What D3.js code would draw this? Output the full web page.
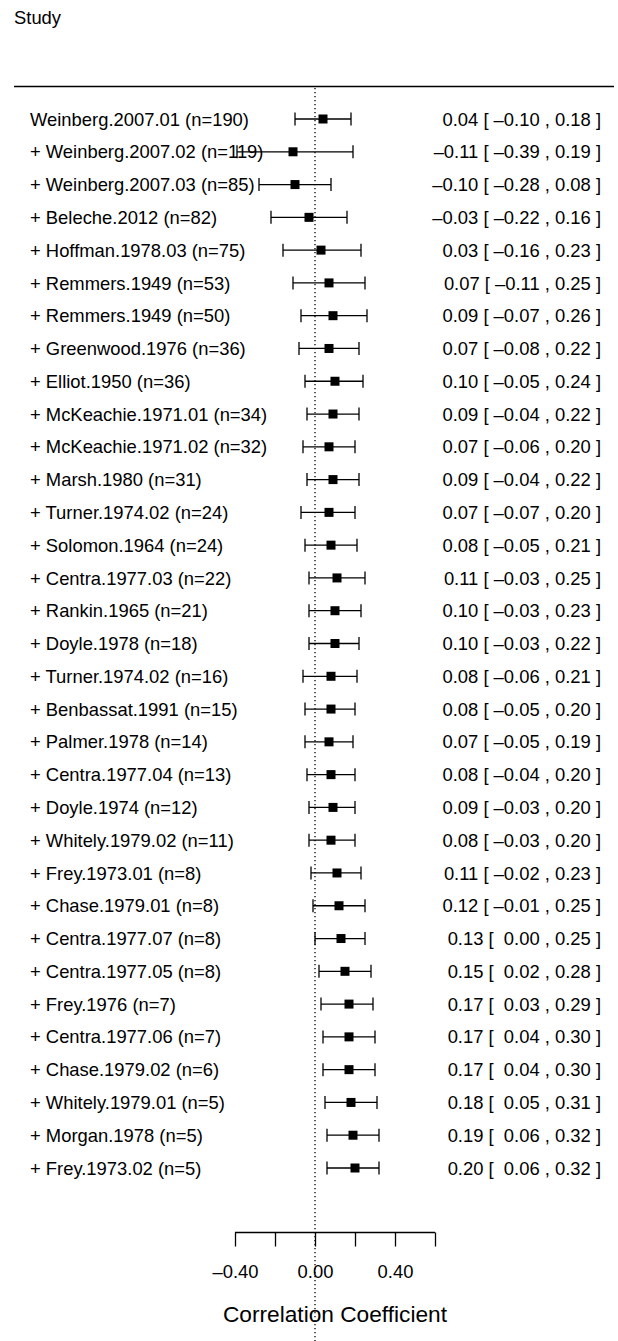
<!DOCTYPE html>
<html>
<head>
<meta charset="utf-8">
<script src="https://cdn.jsdelivr.net/npm/d3@7"></script>
<style>
  html, body { margin: 0; padding: 0; background: #fff; }
  svg { display: block; font-family: "Liberation Sans", Arial, Helvetica, sans-serif; }
  text { white-space: pre; }
</style>
</head>
<body>
<svg id="chart" width="618" height="1341"></svg>
<script>
const studies = ["Weinberg.2007.01 (n=190)", "+ Weinberg.2007.02 (n=119)", "+ Weinberg.2007.03 (n=85)",
  "+ Beleche.2012 (n=82)", "+ Hoffman.1978.03 (n=75)", "+ Remmers.1949 (n=53)", "+ Remmers.1949 (n=50)",
  "+ Greenwood.1976 (n=36)", "+ Elliot.1950 (n=36)", "+ McKeachie.1971.01 (n=34)", "+ McKeachie.1971.02 (n=32)",
  "+ Marsh.1980 (n=31)", "+ Turner.1974.02 (n=24)", "+ Solomon.1964 (n=24)", "+ Centra.1977.03 (n=22)",
  "+ Rankin.1965 (n=21)", "+ Doyle.1978 (n=18)", "+ Turner.1974.02 (n=16)", "+ Benbassat.1991 (n=15)",
  "+ Palmer.1978 (n=14)", "+ Centra.1977.04 (n=13)", "+ Doyle.1974 (n=12)", "+ Whitely.1979.02 (n=11)",
  "+ Frey.1973.01 (n=8)", "+ Chase.1979.01 (n=8)", "+ Centra.1977.07 (n=8)", "+ Centra.1977.05 (n=8)",
  "+ Frey.1976 (n=7)", "+ Centra.1977.06 (n=7)", "+ Chase.1979.02 (n=6)", "+ Whitely.1979.01 (n=5)",
  "+ Morgan.1978 (n=5)", "+ Frey.1973.02 (n=5)"];
const estimates = [0.04, -0.11, -0.10, -0.03, 0.03, 0.07, 0.09, 0.07, 0.10, 0.09, 0.07, 0.09, 0.07, 0.08, 0.11,
  0.10, 0.10, 0.08, 0.08, 0.07, 0.08, 0.09, 0.08, 0.11, 0.12, 0.13, 0.15, 0.17, 0.17, 0.17, 0.18, 0.19, 0.20];
const lower = [-0.10, -0.39, -0.28, -0.22, -0.16, -0.11, -0.07, -0.08, -0.05, -0.04, -0.06, -0.04, -0.07, -0.05, -0.03,
  -0.03, -0.03, -0.06, -0.05, -0.05, -0.04, -0.03, -0.03, -0.02, -0.01, 0.00, 0.02, 0.03, 0.04, 0.04, 0.05, 0.06, 0.06];
const upper = [0.18, 0.19, 0.08, 0.16, 0.23, 0.25, 0.26, 0.22, 0.24, 0.22, 0.20, 0.22, 0.20, 0.21, 0.25,
  0.23, 0.22, 0.21, 0.20, 0.19, 0.20, 0.20, 0.20, 0.23, 0.25, 0.25, 0.28, 0.29, 0.30, 0.30, 0.31, 0.32, 0.32];
const tickValues = [-0.4, -0.2, 0, 0.2, 0.4, 0.6];
const tickLabels = ["\u20130.40", "", "0.00", "", "0.40", ""];
const headerLabel = "Study";
const axisTitle = "Correlation Coefficient";

const rows = studies.map((s, i) => ({ label: s, est: estimates[i], lo: lower[i], hi: upper[i], idx: i }));

const svg = d3.select("#chart");
const x = d3.scaleLinear().domain([-0.4, 0.6]).range([235, 435]);
const y = d3.scaleLinear().domain([0, rows.length - 1]).range([119, 1168]);

const fmt = v => v < 0 ? "\u2013" + Math.abs(v).toFixed(2) : " " + v.toFixed(2);
const fmtEst = v => v < 0 ? "\u2013" + Math.abs(v).toFixed(2) : v.toFixed(2);
const FS = 18.4;

// header
svg.append("text").attr("x", 14).attr("y", 24).attr("font-size", FS).text(headerLabel);
svg.append("line").attr("x1", 14).attr("x2", 614).attr("y1", 86.5).attr("y2", 86.5)
  .attr("stroke", "#000").attr("stroke-width", 1.3);

// dotted reference line
svg.append("line").attr("x1", x(0)).attr("x2", x(0)).attr("y1", 88).attr("y2", 1341)
  .attr("stroke", "#000").attr("stroke-width", 1.3).attr("stroke-dasharray", "1.3,2.7");

// labels
svg.append("g").selectAll("text").data(rows).join("text")
  .attr("x", 30).attr("y", d => y(d.idx)).attr("dy", "0.36em")
  .attr("font-size", FS).attr("fill", "#000").text(d => d.label);

// annotations
svg.append("g").selectAll("text").data(rows).join("text")
  .attr("x", 601).attr("y", d => y(d.idx)).attr("dy", "0.36em")
  .attr("text-anchor", "end").attr("font-size", FS).attr("fill", "#000")
  .text(d => `${fmtEst(d.est)} [ ${fmt(d.lo)} , ${d.hi.toFixed(2)} ]`);

// CIs
const ci = svg.append("g").attr("stroke", "#000").attr("stroke-width", 1.3);
ci.selectAll("line.ci").data(rows).join("line").attr("class", "ci")
  .attr("x1", d => x(d.lo)).attr("x2", d => x(d.hi))
  .attr("y1", d => y(d.idx)).attr("y2", d => y(d.idx));
ci.selectAll("line.capl").data(rows).join("line").attr("class", "capl")
  .attr("x1", d => x(d.lo)).attr("x2", d => x(d.lo))
  .attr("y1", d => y(d.idx) - 6.5).attr("y2", d => y(d.idx) + 6.5);
ci.selectAll("line.capr").data(rows).join("line").attr("class", "capr")
  .attr("x1", d => x(d.hi)).attr("x2", d => x(d.hi))
  .attr("y1", d => y(d.idx) - 6.5).attr("y2", d => y(d.idx) + 6.5);

// squares
const sq = 9;
svg.append("g").selectAll("rect").data(rows).join("rect")
  .attr("x", d => x(d.est) - sq / 2).attr("y", d => y(d.idx) - sq / 2)
  .attr("width", sq).attr("height", sq).attr("fill", "#000");

// axis
const axisG = svg.append("g").attr("transform", "translate(0,1232.5)");
const axis = d3.axisBottom(x).tickValues(tickValues).tickSize(14).tickPadding(18)
  .tickFormat((d, i) => tickLabels[i]);
axisG.call(axis);
axisG.select(".domain").attr("stroke", "#000").attr("stroke-width", 1.3).attr("d", `M${x(-0.4)},0H${x(0.6)}`);
axisG.selectAll(".tick line").attr("stroke", "#000").attr("stroke-width", 1.3);
axisG.selectAll(".tick text").attr("font-size", FS).attr("fill", "#000")
  .attr("font-family", '"Liberation Sans", Arial, sans-serif');

svg.append("text").attr("x", x(0.1)).attr("y", 1322).attr("text-anchor", "middle")
  .attr("font-size", 22.7).attr("fill", "#000").text(axisTitle);
</script>
</body>
</html>
